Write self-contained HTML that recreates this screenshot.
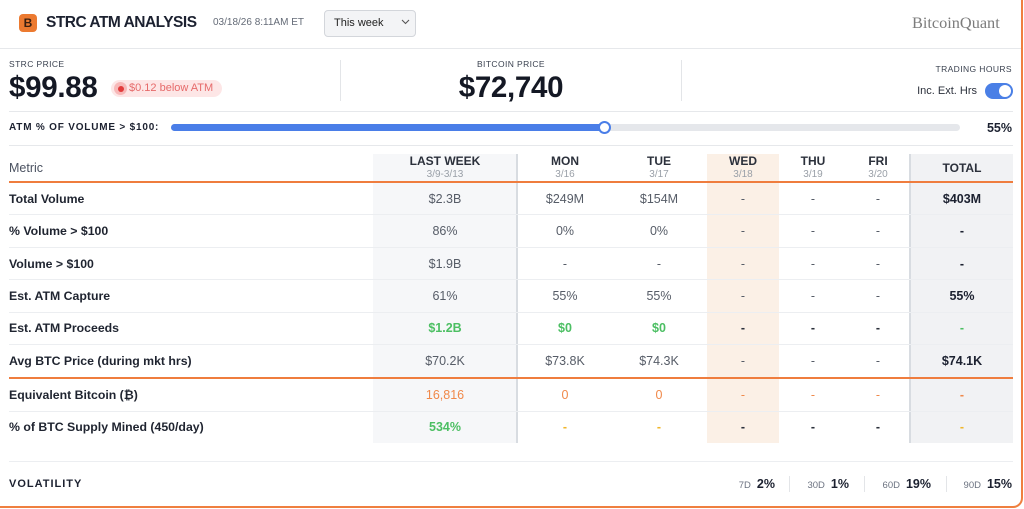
<!DOCTYPE html>
<html><head><meta charset="utf-8"><style>
*{margin:0;padding:0;box-sizing:border-box}
body{width:1024px;height:509px;background:#fff;overflow:hidden;position:relative;font-family:"Liberation Sans",Arial,sans-serif;color:#1c2130}
.a{position:absolute;white-space:nowrap}
.hl{position:absolute;height:1px;background:#e6e8eb}
.lbl{font-size:8.5px;letter-spacing:0.4px;color:#3b4250;line-height:12px}
.big{font-size:29.5px;font-weight:bold;color:#141824;line-height:32px;letter-spacing:-0.3px}
.c{position:absolute;width:120px;text-align:center;white-space:nowrap;font-size:12.5px;line-height:16px;color:#565c67}
.rl{position:absolute;left:9px;font-size:12.3px;font-weight:bold;line-height:16px;color:#1f2430;white-space:nowrap}
.hd{position:absolute;width:120px;text-align:center;font-size:12px;font-weight:bold;color:#2b303b;line-height:14px}
.hs{position:absolute;width:120px;text-align:center;font-size:10px;color:#9aa0a8;line-height:12px}
.b{font-weight:bold;color:#1c2130}
.g{color:#4cbf63;font-weight:bold}
.o{color:#f0894a}
.y{color:#f0b62b;font-weight:bold}
.d{color:#2b303b;font-weight:bold}
.vs{position:absolute;width:1px;height:16px;top:476px;background:#e3e5e8}
.vg{position:absolute;top:476px;line-height:16px;white-space:nowrap}
.vg span.k{font-size:9.5px;color:#6b7280;margin-right:6px}
.vg span.v{font-size:12.5px;font-weight:bold;color:#1c2130}
</style></head><body>
<div class="a" style="left:-10px;top:-10px;width:1033px;height:518px;border:2px solid #ef7f3f;border-radius:10px"></div>

<!-- header -->
<div class="a" style="left:19px;top:14px;width:18px;height:18px;background:#ec7a30;border-radius:4px;text-align:center;font-weight:bold;font-size:12px;line-height:18px;color:#3a2010">B</div>
<div class="a" style="left:46px;top:13px;font-size:15.5px;font-weight:bold;letter-spacing:-0.5px;line-height:20px;color:#1c2130">STRC ATM ANALYSIS</div>
<div class="a" style="left:213px;top:17px;font-size:10px;line-height:12px;color:#646b77">03/18/26 8:11AM ET</div>
<div class="a" style="left:324px;top:10px;width:92px;height:27px;background:#f3f4f6;border:1px solid #d3d6db;border-radius:4px"></div>
<div class="a" style="left:334px;top:16px;font-size:11px;line-height:14px;color:#222">This week</div>
<svg class="a" style="left:401px;top:19px" width="9" height="6"><polyline points="1,1 4.5,4.5 8,1" fill="none" stroke="#555" stroke-width="1.1"/></svg>
<div class="a" style="left:912px;top:13px;font-family:'Liberation Serif',serif;font-size:16.3px;line-height:20px;color:#7c7c7c">BitcoinQuant</div>
<div class="hl" style="left:0;top:48px;width:1021px"></div>

<!-- stats -->
<div class="a lbl" style="left:9px;top:58px">STRC PRICE</div>
<div class="a big" style="left:9px;top:72px">$99.88</div>
<div class="a" style="left:111px;top:80px;width:111px;height:17px;background:#fde6e6;border-radius:9px"></div>
<div class="a" style="left:114px;top:82px;width:13px;height:13px;border-radius:50%;background:#f7b9b9"></div>
<div class="a" style="left:117.5px;top:85.5px;width:6px;height:6px;border-radius:50%;background:#e23b3b"></div>
<div class="a" style="left:129px;top:81px;font-size:11px;line-height:15px;color:#e66a6a">$0.12 below ATM</div>
<div class="a" style="left:340px;top:60px;width:1px;height:41px;background:#e3e5e8"></div>
<div class="a" style="left:681px;top:60px;width:1px;height:41px;background:#e3e5e8"></div>
<div class="a lbl" style="left:340px;width:342px;text-align:center;top:58px">BITCOIN PRICE</div>
<div class="a big" style="left:340px;width:342px;text-align:center;top:72px">$72,740</div>
<div class="a lbl" style="right:12px;top:63px">TRADING HOURS</div>
<div class="a" style="right:47px;top:84px;font-size:11px;line-height:14px;color:#2b303b">Inc. Ext. Hrs</div>
<div class="a" style="left:985px;top:83px;width:28px;height:16px;border-radius:8px;background:#4a7fe6"></div>
<div class="a" style="left:999px;top:85px;width:12px;height:12px;border-radius:50%;background:#fff"></div>
<div class="hl" style="left:9px;top:111px;width:1004px"></div>

<!-- slider -->
<div class="a" style="left:9px;top:121px;font-size:10px;font-weight:bold;letter-spacing:0.8px;line-height:14px;color:#1c2130">ATM % OF VOLUME &gt; $100:</div>
<div class="a" style="left:171px;top:124px;width:789px;height:7px;border-radius:4px;background:#e5e7eb"></div>
<div class="a" style="left:171px;top:124px;width:433px;height:7px;border-radius:4px;background:#4a7ee8"></div>
<div class="a" style="left:597.5px;top:121px;width:13px;height:13px;border-radius:50%;background:#fff;border:2px solid #4a7ee8"></div>
<div class="a" style="right:12px;top:121px;font-size:12.5px;font-weight:bold;line-height:14px;color:#1c2130">55%</div>
<div class="hl" style="left:9px;top:145px;width:1004px"></div>

<!-- table backgrounds -->
<div class="a" style="left:373px;top:154px;width:144px;height:289px;background:#f6f7f9"></div>
<div class="a" style="left:707px;top:154px;width:72px;height:289px;background:#fbf0e6"></div>
<div class="a" style="left:911px;top:154px;width:102px;height:289px;background:#f1f2f4"></div>
<div class="a" style="left:516px;top:154px;width:2px;height:289px;background:#d8dce1"></div>
<div class="a" style="left:909px;top:154px;width:2px;height:289px;background:#d8dce1"></div>

<div class="hl" style="left:9px;top:214px;width:1004px;background:#eceef1"></div>
<div class="hl" style="left:9px;top:247px;width:1004px;background:#eceef1"></div>
<div class="hl" style="left:9px;top:279px;width:1004px;background:#eceef1"></div>
<div class="hl" style="left:9px;top:312px;width:1004px;background:#eceef1"></div>
<div class="hl" style="left:9px;top:344px;width:1004px;background:#eceef1"></div>
<div class="hl" style="left:9px;top:411px;width:1004px;background:#eceef1"></div>
<div class="a" style="left:9px;top:181px;width:1004px;height:2px;background:#ef7d3e"></div>
<div class="a" style="left:9px;top:377px;width:1004px;height:2px;background:#ef7d3e"></div>

<!-- header row -->
<div class="a" style="left:9px;top:160px;font-size:12.5px;line-height:16px;color:#4b5261">Metric</div>
<div class="hd" style="left:385px;top:154px">LAST WEEK</div><div class="hs" style="left:385px;top:169px">3/9-3/13</div>
<div class="hd" style="left:505px;top:154px">MON</div><div class="hs" style="left:505px;top:169px">3/16</div>
<div class="hd" style="left:599px;top:154px">TUE</div><div class="hs" style="left:599px;top:169px">3/17</div>
<div class="hd" style="left:683px;top:154px">WED</div><div class="hs" style="left:683px;top:169px">3/18</div>
<div class="hd" style="left:753px;top:154px">THU</div><div class="hs" style="left:753px;top:169px">3/19</div>
<div class="hd" style="left:818px;top:154px">FRI</div><div class="hs" style="left:818px;top:169px">3/20</div>
<div class="hd" style="left:902px;top:161px">TOTAL</div>

<!-- rows -->
<div class="rl" style="top:191px">Total Volume</div>
<div class="c" style="left:385px;top:191px">$2.3B</div><div class="c" style="left:505px;top:191px">$249M</div><div class="c" style="left:599px;top:191px">$154M</div><div class="c" style="left:683px;top:191px">-</div><div class="c" style="left:753px;top:191px">-</div><div class="c" style="left:818px;top:191px">-</div><div class="c b" style="left:902px;top:191px">$403M</div>

<div class="rl" style="top:223px">% Volume &gt; $100</div>
<div class="c" style="left:385px;top:223px">86%</div><div class="c" style="left:505px;top:223px">0%</div><div class="c" style="left:599px;top:223px">0%</div><div class="c" style="left:683px;top:223px">-</div><div class="c" style="left:753px;top:223px">-</div><div class="c" style="left:818px;top:223px">-</div><div class="c b" style="left:902px;top:223px">-</div>

<div class="rl" style="top:256px">Volume &gt; $100</div>
<div class="c" style="left:385px;top:256px">$1.9B</div><div class="c" style="left:505px;top:256px">-</div><div class="c" style="left:599px;top:256px">-</div><div class="c" style="left:683px;top:256px">-</div><div class="c" style="left:753px;top:256px">-</div><div class="c" style="left:818px;top:256px">-</div><div class="c b" style="left:902px;top:256px">-</div>

<div class="rl" style="top:288px">Est. ATM Capture</div>
<div class="c" style="left:385px;top:288px">61%</div><div class="c" style="left:505px;top:288px">55%</div><div class="c" style="left:599px;top:288px">55%</div><div class="c" style="left:683px;top:288px">-</div><div class="c" style="left:753px;top:288px">-</div><div class="c" style="left:818px;top:288px">-</div><div class="c b" style="left:902px;top:288px">55%</div>

<div class="rl" style="top:320px">Est. ATM Proceeds</div>
<div class="c g" style="left:385px;top:320px">$1.2B</div><div class="c g" style="left:505px;top:320px">$0</div><div class="c g" style="left:599px;top:320px">$0</div><div class="c d" style="left:683px;top:320px">-</div><div class="c d" style="left:753px;top:320px">-</div><div class="c d" style="left:818px;top:320px">-</div><div class="c g" style="left:902px;top:320px">-</div>

<div class="rl" style="top:353px">Avg BTC Price (during mkt hrs)</div>
<div class="c" style="left:385px;top:353px">$70.2K</div><div class="c" style="left:505px;top:353px">$73.8K</div><div class="c" style="left:599px;top:353px">$74.3K</div><div class="c" style="left:683px;top:353px">-</div><div class="c" style="left:753px;top:353px">-</div><div class="c" style="left:818px;top:353px">-</div><div class="c b" style="left:902px;top:353px">$74.1K</div>

<div class="rl" style="top:387px">Equivalent Bitcoin (₿)</div>
<div class="c o" style="left:385px;top:387px">16,816</div><div class="c o" style="left:505px;top:387px">0</div><div class="c o" style="left:599px;top:387px">0</div><div class="c o" style="left:683px;top:387px">-</div><div class="c o" style="left:753px;top:387px">-</div><div class="c o" style="left:818px;top:387px">-</div><div class="c o" style="left:902px;top:387px;font-weight:bold">-</div>

<div class="rl" style="top:419px">% of BTC Supply Mined (450/day)</div>
<div class="c g" style="left:385px;top:419px">534%</div><div class="c y" style="left:505px;top:419px">-</div><div class="c y" style="left:599px;top:419px">-</div><div class="c d" style="left:683px;top:419px">-</div><div class="c d" style="left:753px;top:419px">-</div><div class="c d" style="left:818px;top:419px">-</div><div class="c y" style="left:902px;top:419px">-</div>

<div class="hl" style="left:9px;top:461px;width:1004px;background:#eceef1"></div>

<!-- volatility -->
<div class="a" style="left:9px;top:477px;font-size:11px;font-weight:bold;letter-spacing:1px;line-height:14px;color:#1c2130">VOLATILITY</div>
<div class="vg" style="right:249px"><span class="k">7D</span><span class="v">2%</span></div>
<div class="vs" style="left:789px"></div>
<div class="vg" style="right:175px"><span class="k">30D</span><span class="v">1%</span></div>
<div class="vs" style="left:864px"></div>
<div class="vg" style="right:93px"><span class="k">60D</span><span class="v">19%</span></div>
<div class="vs" style="left:946px"></div>
<div class="vg" style="right:12px"><span class="k">90D</span><span class="v">15%</span></div>
</body></html>
